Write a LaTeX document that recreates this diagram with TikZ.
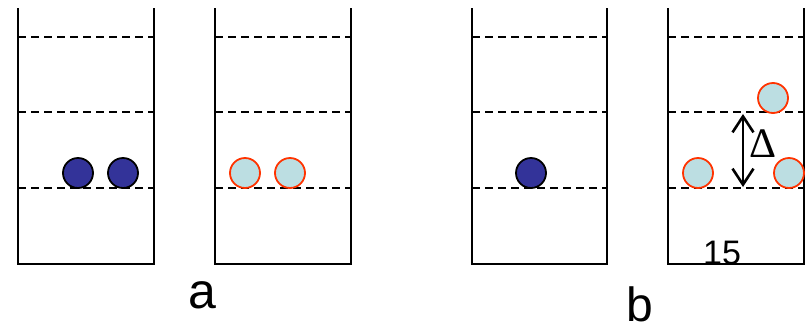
\documentclass[tikz,border=0pt]{standalone}
\usepackage{fontspec}
\setmainfont{Liberation Sans}
\newfontfamily\deltafont{Liberation Serif}
\usetikzlibrary{arrows.meta}
\begin{document}
\begin{tikzpicture}[x=1pt,y=-1pt,
  wall/.style={line width=2pt},
  level/.style={line width=1.8pt,dash pattern=on 8pt off 5pt},
  dark/.style={circle,minimum size=30pt,inner sep=0pt,draw=black,line width=1.8pt,fill={rgb,255:red,51;green,51;blue,153}},
  light/.style={circle,minimum size=30pt,inner sep=0pt,draw={rgb,255:red,255;green,51;blue,0},line width=1.8pt,fill={rgb,255:red,188;green,222;blue,226}}]
\useasboundingbox (0,0) rectangle (809,330);
\foreach \xl/\xr in {18/154, 215/351, 472/607, 668/804}{
  \draw[wall] (\xl,8) -- (\xl,264) -- (\xr,264) -- (\xr,8);
  \foreach \yy in {37,112,188}{\draw[level] (\xl,\yy) -- (\xr,\yy);}
}
\node[dark] (d1) at (78,173) {};
\node[dark] (d2) at (123,173) {};
\node[light] (l1) at (245,173) {};
\node[light] (l2) at (290,173) {};
\node[dark] (d3) at (531,173) {};
\node[light] (l3) at (698,173) {};
\node[light] (l4) at (789,173) {};
\node[light] (l5) at (773,98) {};
\coordinate (atop) at (743,114);
\coordinate (abot) at (743,187);
\draw[line width=2.6pt,<->,>={Straight Barb[length=16pt,width=21pt,line width=2.6pt]}] (atop) -- (abot);
\node[font=\deltafont\fontsize{42}{42}\selectfont,inner sep=0pt] (delta) at (762.5,144) {Δ};
\node[font=\fontsize{34}{34}\selectfont,inner sep=0pt] (n15) at (722,253) {15};
\node[font=\fontsize{50}{50}\selectfont,inner sep=0pt,anchor=base] (la) at (202,308) {a};
\node[font=\fontsize{48}{48}\selectfont,inner sep=0pt,anchor=base] (lb) at (640,321) {b};
\end{tikzpicture}
\end{document}
